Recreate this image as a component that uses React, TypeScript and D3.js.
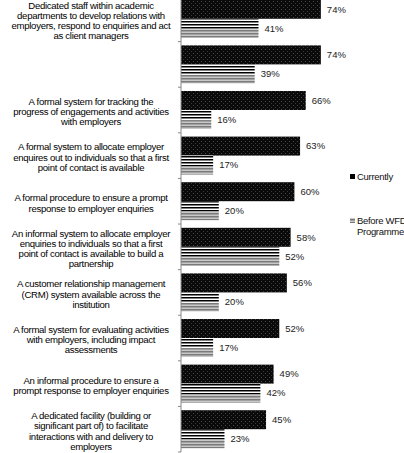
import React from "react";
import * as d3 from "d3";

// Categories (label lines), read top to bottom
const labels: string[][] = [
	["Dedicated staff within academic", "departments to develop relations with", "employers, respond to enquiries and act", "as client managers"],
	[],
	["A formal system for tracking the", "progress of engagements and activities", "with employers"],
	["A formal system to allocate employer", "enquires out to individuals so that a first", "point of contact is available"],
	["A formal procedure to ensure a prompt", "response to employer enquiries"],
	["An informal system to allocate employer", "enquiries to individuals so that a first", "point of contact is available to build a", "partnership"],
	["A customer relationship management", "(CRM) system available across the", "institution"],
	["A formal system for evaluating activities", "with employers, including impact", "assessments"],
	["An informal procedure to ensure a", "prompt response to employer enquiries"],
	["A dedicated facility (building or", "significant part of) to facilitate", "interactions with and delivery to", "employers"],
];
const currently = [74, 74, 66, 63, 60, 58, 56, 52, 49, 45];
const before = [41, 39, 16, 17, 20, 52, 20, 17, 42, 23];
const seriesNames = ["Currently", "Before WFD", "Programme"];

const W = 404;
const H = 453;
const FONT = "'Liberation Sans', Arial, sans-serif";

export default function App() {
	const x = d3.scaleLinear().domain([0, 100]).range([181, 370]);
	const y = d3
		.scaleBand<number>()
		.domain(d3.range(labels.length))
		.range([-4, 452])
		.paddingInner(0.167)
		.paddingOuter(0.083);
	const sub = d3.scaleBand<number>().domain([0, 1]).range([0, y.bandwidth()]);
	const step = y.step();
	const bw = sub.bandwidth();
	const lineH = 10.3;

	return (
		<div style={{ position: "absolute", left: 0, top: 0 }}>
			<svg width={W} height={H} style={{ display: "block", fontFamily: FONT }}>
				<defs>
					<pattern id="dots" width="4" height="4" patternUnits="userSpaceOnUse">
						<rect width="4" height="4" fill="#0a0a0a" />
						<rect x="1" y="1" width="1" height="1" fill="#4a4a4a" />
						<rect x="3" y="3" width="1" height="1" fill="#3a3a3a" />
					</pattern>
					<pattern id="stripeDark" width="4" height="3" patternUnits="userSpaceOnUse">
						<rect width="4" height="3" fill="#fff" />
						<rect width="4" height="1.5" fill="#000" />
					</pattern>
					<pattern id="stripeGray" width="4" height="3" patternUnits="userSpaceOnUse">
						<rect width="4" height="3" fill="#c8c8c8" />
						<rect width="4" height="1.5" fill="#7a7a7a" />
					</pattern>
				</defs>
				<rect width={W} height={H} fill="#fff" />

				{/* bars */}
				{labels.map((_, i) => {
					const y0 = y(i)!;
					const yc = y0 + sub(0)!;
					const yb = y0 + sub(1)!;
					const darkH = bw * 0.55;
					return (
						<g key={i}>
							<rect x={x(0)} y={yc} width={x(currently[i]) - x(0)} height={bw} fill="url(#dots)" />
							<rect x={x(0)} y={yb} width={x(before[i]) - x(0)} height={darkH} fill="url(#stripeDark)" />
							<rect x={x(0)} y={yb + darkH} width={x(before[i]) - x(0)} height={bw - darkH} fill="url(#stripeGray)" />
							<text x={x(currently[i]) + 6} y={yc + bw / 2} dy="0.35em" fontSize={9.5} fill="#222">
								{currently[i]}%
							</text>
							<text x={x(before[i]) + 6} y={yb + bw / 2} dy="0.35em" fontSize={9.5} fill="#222">
								{before[i]}%
							</text>
						</g>
					);
				})}

				{/* category axis */}
				<line x1={x(0)} x2={x(0)} y1={-4} y2={452} stroke="#888" />
				{d3.range(labels.length + 1).map((i) => {
					const ty = -4 + i * step;
					return <line key={i} x1={x(0) - 3} x2={x(0)} y1={ty} y2={ty} stroke="#888" />;
				})}

				{/* category labels */}
				{labels.map((lines, i) => {
					const cy = y(i)! + y.bandwidth() / 2 + 1.8;
					const top = cy - ((lines.length - 1) * lineH) / 2;
					return (
						<text key={i} x={91} textAnchor="middle" fontSize={9.6} letterSpacing={-0.3} fill="#000">
							{lines.map((l, j) => (
								<tspan key={j} x={91} y={top + j * lineH} dy="0.35em">
									{l}
								</tspan>
							))}
						</text>
					);
				})}

				{/* legend */}
				<rect x={350} y={174} width={5} height={5} fill="#000" />
				<text x={357} y={177} dy="0.35em" fontSize={9.5} letterSpacing={-0.3} fill="#111">
					{seriesNames[0]}
				</text>
				<rect x={350} y={218} width={5} height={5} fill="url(#stripeGray)" />
				<text x={357} y={221} dy="0.35em" fontSize={9.5} letterSpacing={-0.3} fill="#111">
					{seriesNames[1]}
				</text>
				<text x={357} y={232} dy="0.35em" fontSize={9.5} letterSpacing={-0.3} fill="#111">
					{seriesNames[2]}
				</text>
			</svg>
		</div>
	);
}
